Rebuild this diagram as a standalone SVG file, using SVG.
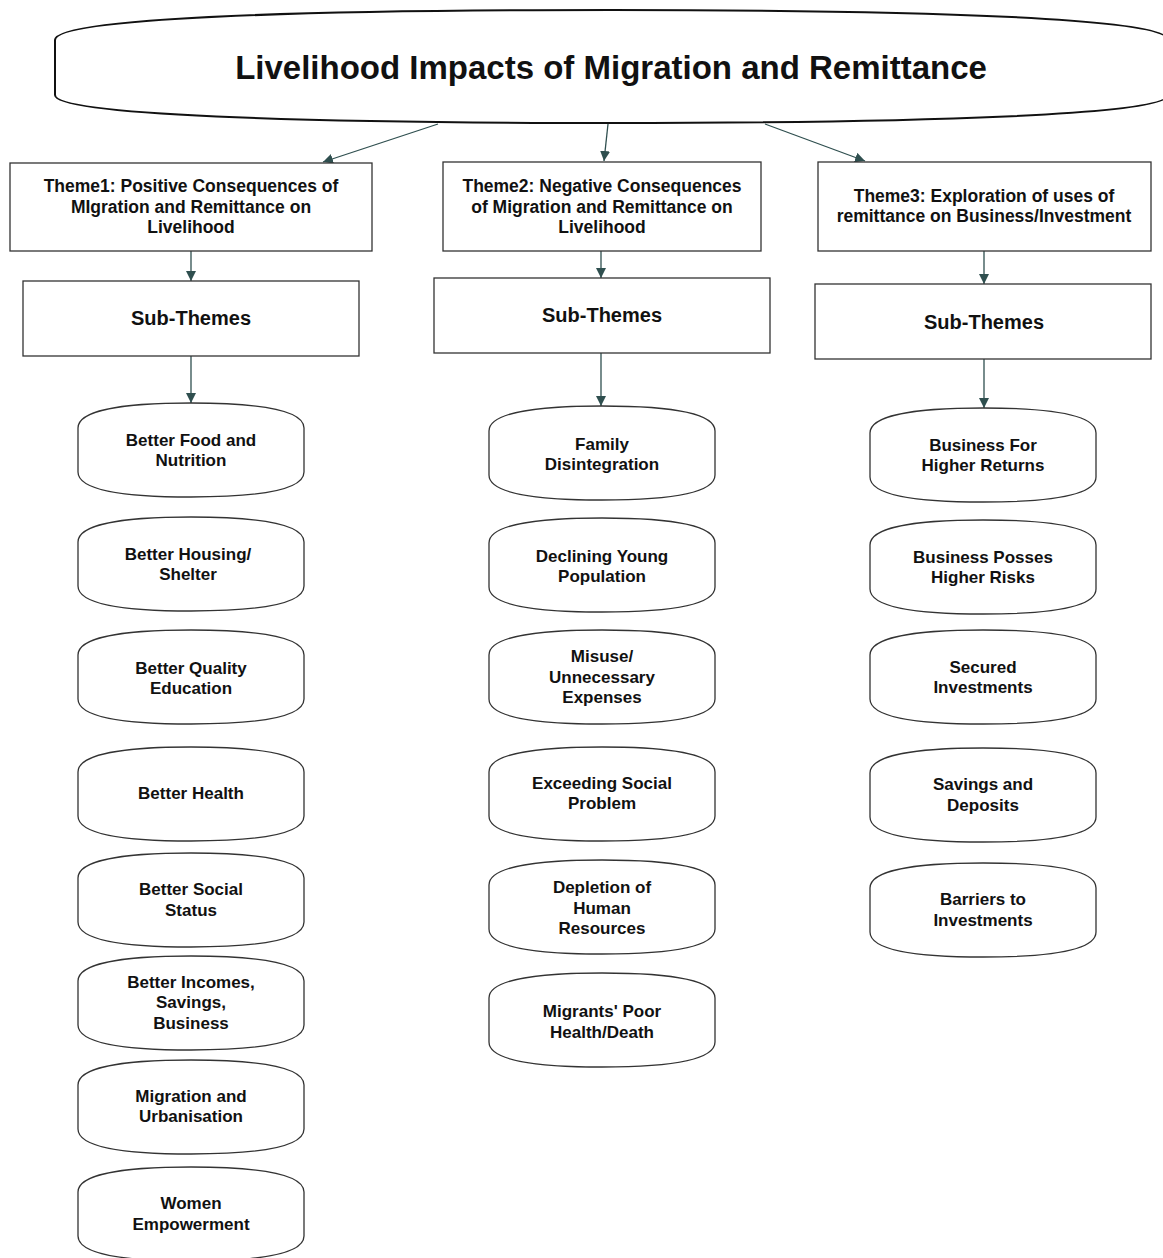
<svg xmlns="http://www.w3.org/2000/svg" xmlns:xlink="http://www.w3.org/1999/xlink" width="1163" height="1258" viewBox="0 0 1163 1258">
<style>
.box{fill:#fff;stroke:#333;stroke-width:1.3}
.pill{fill:#fff;stroke:#333;stroke-width:1.3}
.t{font-family:"Liberation Sans",Arial,sans-serif;font-weight:bold;fill:#111;text-anchor:middle}
.n{font-size:17px}
.th{font-size:17.5px}
.st{font-size:20px}
.con{stroke:#2f4f4f;stroke-width:1.3;fill:none;marker-end:url(#ah)}
</style>
<defs>
<marker id="ah" viewBox="0 0 10 10" refX="10" refY="5" markerWidth="10" markerHeight="10" markerUnits="userSpaceOnUse" orient="auto">
<path d="M0,0 L10,5 L0,10 Z" fill="#2f4f4f"/>
</marker>
<path id="pl" d="M0,25 C0,7 45,0 113,0 C181,0 226,7 226,25 L226,69 C226,87 181,94 113,94 C45,94 0,87 0,69 Z"/>
</defs>
<rect width="1163" height="1258" fill="#fff"/>

<g id="connectors">
<line class="con" x1="438" y1="124" x2="323" y2="162"/>
<line class="con" x1="608" y1="124" x2="604" y2="161"/>
<line class="con" x1="765" y1="124" x2="865" y2="161"/>
<line class="con" x1="191" y1="251" x2="191" y2="281"/>
<line class="con" x1="601" y1="251" x2="601" y2="278"/>
<line class="con" x1="984" y1="251" x2="984" y2="284"/>
<line class="con" x1="191" y1="356" x2="191" y2="403"/>
<line class="con" x1="601" y1="353" x2="601" y2="406"/>
<line class="con" x1="984" y1="359" x2="984" y2="408"/>
</g>

<g id="title">
<path d="M55,40 C55,18 300,10 611,10 C920,10 1168,18 1168,40 L1168,95 C1168,115 920,123 611,123 C300,123 55,115 55,95 Z" fill="#fff" stroke="#111" stroke-width="2"/>
<text class="t" x="611" y="79" style="font-size:33px">Livelihood Impacts of Migration and Remittance</text>
</g>

<g id="theme1">
<rect class="box" x="10" y="163" width="362" height="88"/>
<text class="t th" x="191" y="192">Theme1: Positive Consequences of</text>
<text class="t th" x="191" y="213">MIgration and Remittance on</text>
<text class="t th" x="191" y="233">Livelihood</text>
</g>
<g id="theme2">
<rect class="box" x="443" y="162" width="318" height="89"/>
<text class="t th" x="602" y="192">Theme2: Negative Consequences</text>
<text class="t th" x="602" y="213">of Migration and Remittance on</text>
<text class="t th" x="602" y="233">Livelihood</text>
</g>
<g id="theme3">
<rect class="box" x="818" y="162" width="333" height="89"/>
<text class="t th" x="984" y="202">Theme3: Exploration of uses of</text>
<text class="t th" x="984" y="222">remittance on Business/Investment</text>
</g>

<g id="sub1"><rect class="box" x="23" y="281" width="336" height="75"/><text class="t st" x="191" y="325">Sub-Themes</text></g>
<g id="sub2"><rect class="box" x="434" y="278" width="336" height="75"/><text class="t st" x="602" y="322">Sub-Themes</text></g>
<g id="sub3"><rect class="box" x="815" y="284" width="336" height="75"/><text class="t st" x="984" y="329">Sub-Themes</text></g>

<g id="c1n1"><use href="#pl" class="pill" x="78" y="403"/><text class="t n" x="191" y="446">Better Food and</text><text class="t n" x="191" y="466">Nutrition</text></g>
<g id="c1n2"><use href="#pl" class="pill" x="78" y="517"/><text class="t n" x="188" y="560">Better Housing/</text><text class="t n" x="188" y="580">Shelter</text></g>
<g id="c1n3"><use href="#pl" class="pill" x="78" y="630"/><text class="t n" x="191" y="674">Better Quality</text><text class="t n" x="191" y="694">Education</text></g>
<g id="c1n4"><use href="#pl" class="pill" x="78" y="747"/><text class="t n" x="191" y="799">Better Health</text></g>
<g id="c1n5"><use href="#pl" class="pill" x="78" y="853"/><text class="t n" x="191" y="895">Better Social</text><text class="t n" x="191" y="916">Status</text></g>
<g id="c1n6"><use href="#pl" class="pill" x="78" y="956"/><text class="t n" x="191" y="988">Better Incomes,</text><text class="t n" x="191" y="1008">Savings,</text><text class="t n" x="191" y="1029">Business</text></g>
<g id="c1n7"><use href="#pl" class="pill" x="78" y="1060"/><text class="t n" x="191" y="1102">Migration and</text><text class="t n" x="191" y="1122">Urbanisation</text></g>
<g id="c1n8"><use href="#pl" class="pill" x="78" y="1167"/><text class="t n" x="191" y="1209">Women</text><text class="t n" x="191" y="1230">Empowerment</text></g>

<g id="c2n1"><use href="#pl" class="pill" x="489" y="406"/><text class="t n" x="602" y="450">Family</text><text class="t n" x="602" y="470">Disintegration</text></g>
<g id="c2n2"><use href="#pl" class="pill" x="489" y="518"/><text class="t n" x="602" y="562">Declining Young</text><text class="t n" x="602" y="582">Population</text></g>
<g id="c2n3"><use href="#pl" class="pill" x="489" y="630"/><text class="t n" x="602" y="662">Misuse/</text><text class="t n" x="602" y="683">Unnecessary</text><text class="t n" x="602" y="703">Expenses</text></g>
<g id="c2n4"><use href="#pl" class="pill" x="489" y="747"/><text class="t n" x="602" y="789">Exceeding Social</text><text class="t n" x="602" y="809">Problem</text></g>
<g id="c2n5"><use href="#pl" class="pill" x="489" y="860"/><text class="t n" x="602" y="893">Depletion of</text><text class="t n" x="602" y="914">Human</text><text class="t n" x="602" y="934">Resources</text></g>
<g id="c2n6"><use href="#pl" class="pill" x="489" y="973"/><text class="t n" x="602" y="1017">Migrants' Poor</text><text class="t n" x="602" y="1038">Health/Death</text></g>

<g id="c3n1"><use href="#pl" class="pill" x="870" y="408"/><text class="t n" x="983" y="451">Business For</text><text class="t n" x="983" y="471">Higher Returns</text></g>
<g id="c3n2"><use href="#pl" class="pill" x="870" y="520"/><text class="t n" x="983" y="563">Business Posses</text><text class="t n" x="983" y="583">Higher Risks</text></g>
<g id="c3n3"><use href="#pl" class="pill" x="870" y="630"/><text class="t n" x="983" y="673">Secured</text><text class="t n" x="983" y="693">Investments</text></g>
<g id="c3n4"><use href="#pl" class="pill" x="870" y="748"/><text class="t n" x="983" y="790">Savings and</text><text class="t n" x="983" y="811">Deposits</text></g>
<g id="c3n5"><use href="#pl" class="pill" x="870" y="863"/><text class="t n" x="983" y="905">Barriers to</text><text class="t n" x="983" y="926">Investments</text></g>
</svg>
